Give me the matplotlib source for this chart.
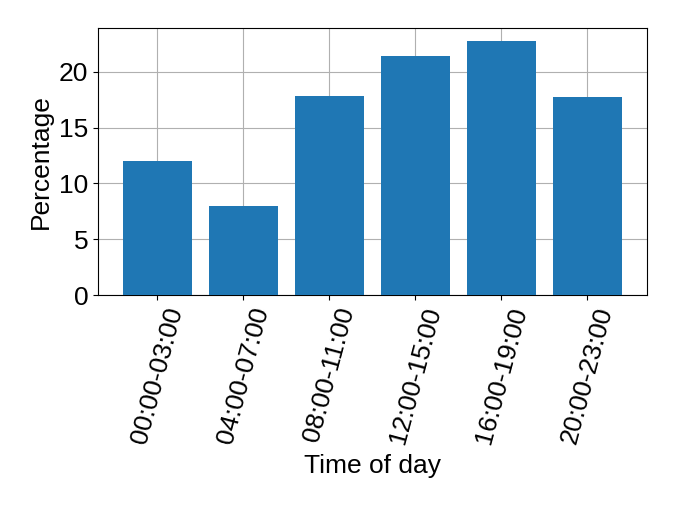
import numpy as np
import matplotlib
matplotlib.use("Agg")
import matplotlib.pyplot as plt

# share of activity by time of day
time_slots = ["00:00-03:00", "04:00-07:00", "08:00-11:00",
              "12:00-15:00", "16:00-19:00", "20:00-23:00"]
percentages = [12.02, 7.95, 17.87, 21.44, 22.79, 17.78]

plt.rcParams['font.family'] = ['Liberation Sans', 'DejaVu Sans']
plt.rcParams['font.size'] = 19

fig, ax = plt.subplots(figsize=(6.75, 5.07), dpi=100)
x = np.arange(len(time_slots))
ax.bar(x, percentages, color="#1f77b4", zorder=3)
ax.set_xticks(x)
ax.set_xticklabels(time_slots, rotation=75)
ax.set_xlabel("Time of day", labelpad=5)
ax.set_ylabel("Percentage")
ax.grid(True, zorder=0)
ax.set_axisbelow(True)

fig.subplots_adjust(left=0.145, right=0.958, top=0.945, bottom=0.418)
fig.savefig("out.png", dpi=100)
